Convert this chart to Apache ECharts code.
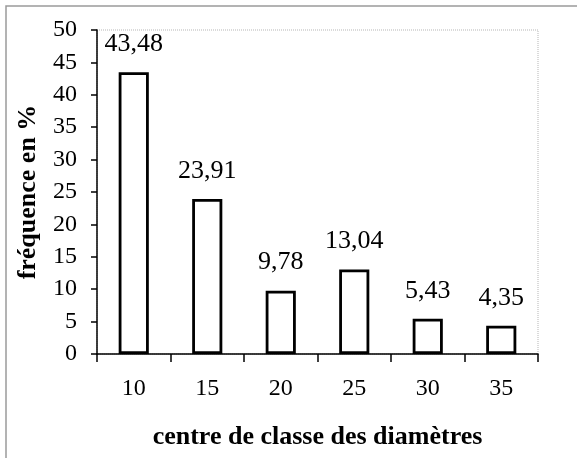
<!DOCTYPE html>
<html>
<head>
<meta charset="utf-8">
<script src="https://cdn.jsdelivr.net/npm/echarts@6/dist/echarts.min.js"></script>
<style>
  html, body { margin: 0; padding: 0; background: #fff; }
  #chart { width: 577px; height: 458px; }
</style>
</head>
<body>
<div id="chart"></div>
<script>
// Diameter class centres and their frequency (%)
const classCentres = ['10', '15', '20', '25', '30', '35'];
const frequencies = [43.48, 23.91, 9.78, 13.04, 5.43, 4.35];
const yTicks = { min: 0, max: 50, step: 5 };

const serif = '"Liberation Serif", "Times New Roman", serif';
const chart = echarts.init(document.getElementById('chart'), null, { renderer: 'canvas' });

chart.setOption({
  animation: false,
  backgroundColor: '#fff',
  graphic: [{
    type: 'rect',
    shape: { x: 6, y: 6, width: 620, height: 500 },
    style: { fill: 'none', stroke: '#9a9a9a', lineWidth: 1.5 },
    silent: true
  }],
  grid: {
    left: 97, right: 39, top: 30, bottom: 104,
    show: true, borderColor: '#b5b5b5', borderWidth: 1, borderType: 'dotted',
    backgroundColor: 'transparent'
  },
  xAxis: {
    type: 'category',
    data: classCentres,
    boundaryGap: true,
    name: 'centre de classe des diamètres',
    nameLocation: 'middle',
    nameGap: 70,
    nameTextStyle: { fontFamily: serif, fontWeight: 'bold', fontSize: 26, color: '#000' },
    axisLine: { lineStyle: { color: '#000', width: 1.5 } },
    axisTick: { show: true, alignWithLabel: false, length: 8, inside: false, lineStyle: { color: '#000', width: 1.5 } },
    axisLabel: { fontFamily: serif, fontSize: 24, color: '#000', margin: 23 },
    splitLine: { show: false }
  },
  yAxis: {
    type: 'value',
    min: yTicks.min, max: yTicks.max, interval: yTicks.step,
    name: 'fréquence en %',
    nameLocation: 'middle',
    nameGap: 56,
    nameRotate: 90,
    nameTextStyle: { fontFamily: serif, fontWeight: 'bold', fontSize: 26, color: '#000' },
    axisLine: { show: true, lineStyle: { color: '#000', width: 1.5 } },
    axisTick: { show: true, length: 6, inside: false, lineStyle: { color: '#000', width: 1.5 } },
    axisLabel: { fontFamily: serif, fontSize: 24, color: '#000', margin: 20 },
    splitLine: { show: false }
  },
  series: [{
    type: 'bar',
    data: frequencies,
    barWidth: '41%',
    itemStyle: { color: '#fff', borderColor: '#000', borderWidth: 2.8 },
    label: {
      show: true,
      position: 'top',
      distance: 15,
      fontFamily: serif,
      fontSize: 26,
      color: '#000',
      formatter: p => String(p.value).replace('.', ',')
    }
  }]
});
</script>
</body>
</html>
